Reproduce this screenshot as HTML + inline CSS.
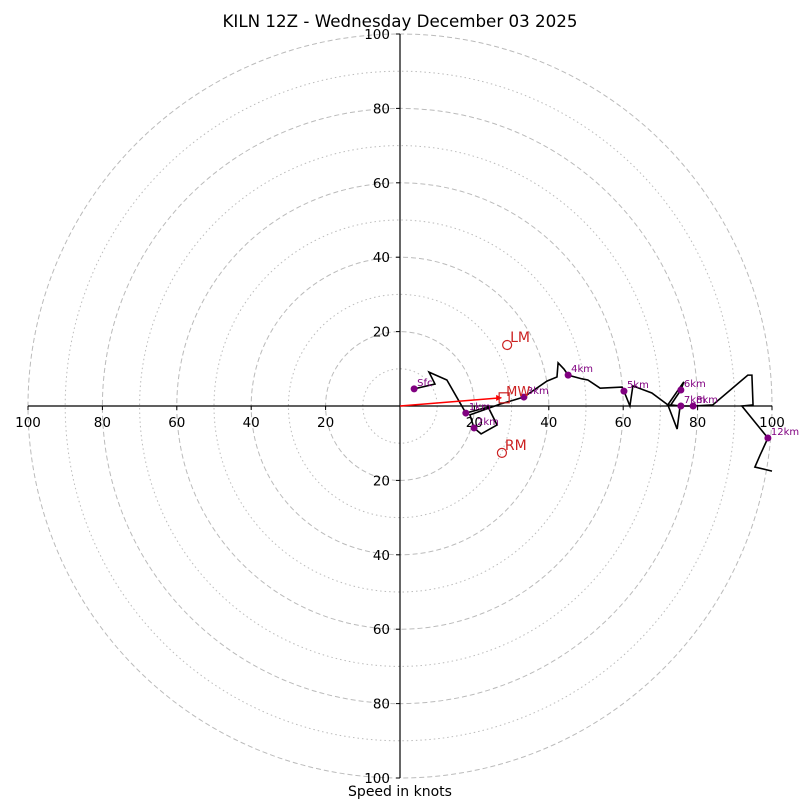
<!DOCTYPE html>
<html><head><meta charset="utf-8"><style>
html,body{margin:0;padding:0;background:#fff}
svg{display:block;font-family:"DejaVu Sans","Liberation Sans",sans-serif}
</style></head><body>
<svg id="c" width="800" height="800" viewBox="0 0 800 800"></svg>
<script>
const heightLabels = ["Sfc","1km","2km","3km","4km","5km","6km","7km","8km","12km"];
const labelU = [3.8,17.7,19.9,33.3,45.2,60.2,75.5,75.5,78.8,98.9];
const labelV = [4.6,-1.9,-5.9,2.4,8.3,4.0,4.3,0,0,-8.6];
const windU = [3.8,9.4,7.8,12.6,17.7,23.7,26.1,21.8,19.9,18.8,26.9,33.3,39.5,42.2,42.5,44.1,45.2,48.9,50.5,53.8,59.7,60.2,61.8,62.6,67.7,72.0,74.5,75.3,72.0,76.3,75.5,72.8,75.5,78.8,84.1,93.5,94.6,94.9,91.9,98.9,96.8,95.4,100];
const windV = [4.6,5.9,9.1,7.0,-1.9,-0.3,-5.1,-7.5,-5.9,-2.4,0.5,2.4,6.7,7.8,11.6,9.9,8.3,7.3,7.0,4.8,5.1,4.0,0,5.4,3.5,0.3,-6.2,0,0.3,6.5,4.3,0.3,0,0,0.3,8.3,8.3,0.3,0,-8.6,-13.2,-16.4,-17.5];
const ringValues = [10,20,30,40,50,60,70,80,90,100];
const tickValues = [20,40,60,80,100];
const stormNames = ["LM","RM"];
const stormU = [28.8,27.4];
const stormV = [16.4,-12.6];
const meanWindU = [28.0];
const meanWindV = [2.2];

const NS="http://www.w3.org/2000/svg", svg=document.getElementById('c');
const CX=400, CY=406, K=3.72;
const sx=u=>CX+u*K, sy=v=>CY-v*K;
function mk(t,a,txt){const e=document.createElementNS(NS,t);for(const k in a)e.setAttribute(k,a[k]);if(txt!=null)e.textContent=txt;svg.appendChild(e);return e;}

ringValues.forEach(r=>{
  const e=mk('circle',{cx:CX,cy:CY,r:r*K,fill:'none',stroke:'#bbb','stroke-width':1,'stroke-dasharray':r%20===0?'5,3':'1.5,3'});
  
  
});
let a=mk('line',{x1:sx(-100),y1:CY,x2:sx(100),y2:CY,stroke:'#000','stroke-width':1.2});


a=mk('line',{x1:CX,y1:sy(100),x2:CX,y2:sy(-100),stroke:'#000','stroke-width':1.2});


tickValues.forEach(t=>{
  [-1,1].forEach(s=>{
    mk('line',{x1:sx(s*t),y1:CY,x2:sx(s*t),y2:CY+4,stroke:'#000'});
    let e=mk('text',{x:sx(s*t),y:CY+21,'font-size':13.5,'text-anchor':'middle'},String(t));
    
    
    mk('line',{x1:CX-4,y1:sy(s*t),x2:CX,y2:sy(s*t),stroke:'#000'});
    e=mk('text',{x:CX-10,y:sy(s*t)+5,'font-size':13.5,'text-anchor':'end'},String(t));
    
    
  });
});
let p=mk('polyline',{points:windU.map((u,i)=>sx(u)+','+sy(windV[i])).join(' '),fill:'none',stroke:'#000','stroke-width':1.6,'stroke-linejoin':'miter'});


heightLabels.forEach((l,i)=>{
  let d=mk('circle',{cx:sx(labelU[i]),cy:sy(labelV[i]),r:3.5,fill:'purple'});
  
  
  let t=mk('text',{x:sx(labelU[i])+3,y:sy(labelV[i])-3,'font-size':10,fill:'purple'},l);
  
  
});
let ar=mk('line',{x1:CX,y1:CY,x2:sx(meanWindU[0])-4,y2:sy(meanWindV[0]),stroke:'red','stroke-width':1.5});


mk('polygon',{points:`${sx(meanWindU[0])-2},${sy(meanWindV[0])} ${sx(meanWindU[0])-8},${sy(meanWindV[0])-3} ${sx(meanWindU[0])-8},${sy(meanWindV[0])+3}`,fill:'red'});
let sq=mk('rect',{x:sx(meanWindU[0])-5,y:sy(meanWindV[0])-5,width:10,height:10,fill:'none',stroke:'#c22','stroke-width':1.2});


let mw=mk('text',{x:sx(meanWindU[0])+2,y:sy(meanWindV[0])-2,'font-size':13,fill:'#c22'},'MW');


stormNames.forEach((n,i)=>{
  let c=mk('circle',{cx:sx(stormU[i]),cy:sy(stormV[i]),r:4.5,fill:'none',stroke:'#c22','stroke-width':1.2});
  
  
  let t=mk('text',{x:sx(stormU[i])+3,y:sy(stormV[i])-3,'font-size':14,fill:'#c22'},n);
  
  
});
let ti=mk('text',{x:400,y:27,'font-size':16.7,'text-anchor':'middle'},'KILN 12Z - Wednesday December 03 2025');


let xl=mk('text',{x:400,y:796,'font-size':14,'text-anchor':'middle'},'Speed in knots');


</script>
</body></html>
